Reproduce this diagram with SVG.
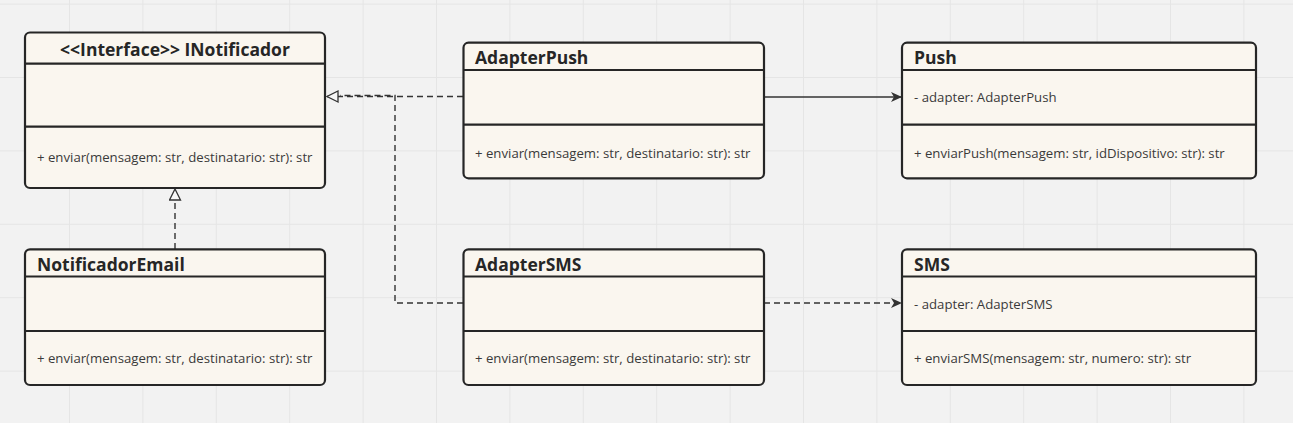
<svg xmlns="http://www.w3.org/2000/svg" width="1293" height="423" viewBox="0 0 1293 423">
<style>
.box{fill:#faf6ef;stroke:#262626;stroke-width:2.2}
.div{stroke:#262626;stroke-width:2.2}
.title{font-family:"Open Sans","Noto Sans",sans-serif;font-weight:700;font-size:17.5px;fill:#262626}
.mem{font-family:"Open Sans","Noto Sans",sans-serif;font-size:13.2px;fill:#3a3a3a}
.conn{fill:none;stroke:#333;stroke-width:1.4}
.dash{stroke-dasharray:6 4}
</style>
<defs>
<pattern id="grid" patternUnits="userSpaceOnUse" x="-4.4" y="3.6" width="73.4" height="73.4">
<path d="M0,0 H73.4 M0,0 V73.4" stroke="#e5e5e5" stroke-width="2" fill="none"/>
</pattern>
<marker id="tri" markerUnits="userSpaceOnUse" markerWidth="14" markerHeight="14" refX="12" refY="6" orient="auto">
<path d="M1,0.5 L12,6 L1,11.5 z" fill="#f7f7f7" stroke="#333" stroke-width="1.3" stroke-dasharray="none"/>
</marker>
<marker id="arr" markerUnits="userSpaceOnUse" markerWidth="12" markerHeight="12" refX="11" refY="6" orient="auto">
<path d="M0,1 L11,6 L0,11 L3,6 z" fill="#333" stroke="none"/>
</marker>
</defs>
<rect width="1293" height="423" fill="#f2f2f2"/>
<rect width="1293" height="423" fill="url(#grid)"/>

<g id="connectors">
<path class="conn dash" d="M463,96.5 L327,96.5" marker-end="url(#tri)"/>
<path class="conn dash" d="M463,303 L395,303 L395,95.5 L340,95.5"/>
<path class="conn dash" d="M175,249 L175,189" marker-end="url(#tri)"/>
<path class="conn" d="M764,97 L902,97" marker-end="url(#arr)"/>
<path class="conn dash" d="M764,303 L902,303" marker-end="url(#arr)"/>
</g>

<g id="INotificador">
<rect class="box" x="25" y="32.5" width="300" height="155.5" rx="5"/>
<line class="div" x1="25" y1="63.7" x2="325" y2="63.7"/>
<line class="div" x1="25" y1="126.7" x2="325" y2="126.7"/>
<text class="title" x="175" y="56" text-anchor="middle">&lt;&lt;Interface&gt;&gt; INotificador</text>
<text class="mem" x="37" y="161.5">+ enviar(mensagem: str, destinatario: str): str</text>
</g>

<g id="AdapterPush">
<rect class="box" x="463.5" y="42.7" width="300.5" height="135.6" rx="5"/>
<line class="div" x1="463.5" y1="70" x2="764" y2="70"/>
<line class="div" x1="463.5" y1="124.7" x2="764" y2="124.7"/>
<text class="title" x="475" y="64">AdapterPush</text>
<text class="mem" x="475" y="157.5">+ enviar(mensagem: str, destinatario: str): str</text>
</g>

<g id="Push">
<rect class="box" x="902" y="42.7" width="354" height="135.6" rx="5"/>
<line class="div" x1="902" y1="70" x2="1256" y2="70"/>
<line class="div" x1="902" y1="124.7" x2="1256" y2="124.7"/>
<text class="title" x="914" y="64">Push</text>
<text class="mem" x="914" y="101.5">- adapter: AdapterPush</text>
<text class="mem" x="914" y="157.5">+ enviarPush(mensagem: str, idDispositivo: str): str</text>
</g>

<g id="NotificadorEmail">
<rect class="box" x="25" y="249.3" width="300" height="135.7" rx="5"/>
<line class="div" x1="25" y1="276.5" x2="325" y2="276.5"/>
<line class="div" x1="25" y1="331" x2="325" y2="331"/>
<text class="title" x="37" y="270.7">NotificadorEmail</text>
<text class="mem" x="37" y="362.5">+ enviar(mensagem: str, destinatario: str): str</text>
</g>

<g id="AdapterSMS">
<rect class="box" x="463.5" y="249.3" width="300.5" height="135.7" rx="5"/>
<line class="div" x1="463.5" y1="276.5" x2="764" y2="276.5"/>
<line class="div" x1="463.5" y1="331" x2="764" y2="331"/>
<text class="title" x="475" y="270.7">AdapterSMS</text>
<text class="mem" x="475" y="362.5">+ enviar(mensagem: str, destinatario: str): str</text>
</g>

<g id="SMS">
<rect class="box" x="902" y="249.3" width="354" height="135.7" rx="5"/>
<line class="div" x1="902" y1="276.5" x2="1256" y2="276.5"/>
<line class="div" x1="902" y1="331" x2="1256" y2="331"/>
<text class="title" x="914" y="270.7">SMS</text>
<text class="mem" x="914" y="308.5">- adapter: AdapterSMS</text>
<text class="mem" x="914" y="362.5">+ enviarSMS(mensagem: str, numero: str): str</text>
</g>
</svg>
